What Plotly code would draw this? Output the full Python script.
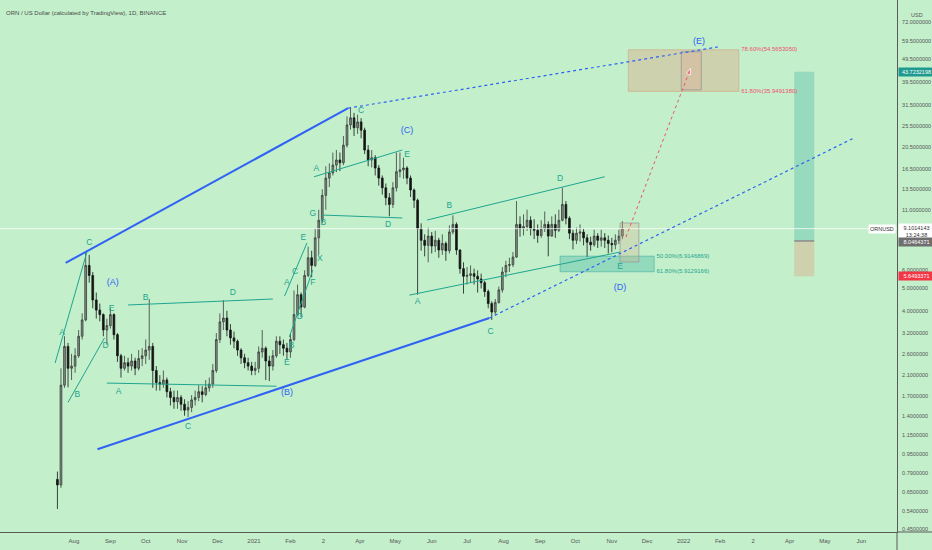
import numpy as np
import pandas as pd
import plotly.graph_objects as go

BG = "#c3efcb"
TEAL = "#1fa58f"
BLUE = "#2f62f5"
PINK = "#f0506e"
AXIS = "#5a5a5a"
FONT = "Liberation Sans"

# ORN/USD, 3-day candles
candle_start = "2020-07-18"
open_px = [0.74, 0.70, 1.90, 2.80, 2.25, 2.30, 2.55, 3.10, 3.65, 6.30,
           5.70, 4.46, 4.03, 3.85, 3.30, 3.45, 3.85, 3.15, 2.55, 2.25,
           2.38, 2.30, 2.42, 2.25, 2.48, 2.55, 2.70, 2.80, 2.20, 1.95,
           1.92, 2.00, 1.78, 1.68, 1.61, 1.68, 1.57, 1.48, 1.52, 1.64,
           1.68, 1.78, 1.73, 1.85, 1.92, 2.20, 3.00, 3.58, 3.72, 3.30,
           3.05, 2.95, 2.70, 2.50, 2.38, 2.30, 2.20, 2.25, 2.65, 2.75,
           2.42, 2.30, 2.55, 2.95, 2.85, 2.75, 2.65, 3.00, 3.85, 4.70,
           4.15, 5.70, 6.80, 6.30, 8.30, 9.90, 12.7, 15.1, 15.9, 17.2,
           18.1, 17.6, 21.0, 25.7, 27.6, 25.0, 26.5, 24.4, 20.0, 18.1,
           18.5, 16.7, 15.1, 13.7, 12.4, 11.6, 13.7, 16.1, 16.4, 16.7,
           15.1, 13.4, 12.1, 9.10, 8.10, 7.70, 8.45, 7.65, 8.10, 7.35,
           7.85, 7.30, 8.80, 9.50, 7.35, 6.10, 5.65, 5.70, 5.80, 5.65,
           5.50, 5.30, 4.85, 4.30, 3.95, 4.35, 4.93, 5.90, 6.30, 6.35,
           6.85, 9.50, 9.10, 9.30, 9.90, 9.10, 8.95, 8.50, 9.10, 9.50,
           8.45, 9.50, 8.95, 9.90, 11.6, 10.1, 8.70, 8.10, 8.70, 8.80,
           8.30, 7.95, 7.75, 8.45, 8.10, 8.30, 8.10, 7.85, 7.75, 8.10,
           8.45]
high_px = [0.80, 2.25, 3.10, 2.90, 2.60, 2.75, 3.30, 3.90, 7.20, 7.00,
           5.90, 4.80, 4.30, 3.90, 3.70, 4.10, 3.90, 3.20, 2.60, 2.55,
           2.50, 2.60, 2.50, 2.70, 2.75, 3.00, 4.50, 2.90, 2.30, 2.10,
           2.20, 2.05, 1.85, 1.80, 1.80, 1.72, 1.65, 1.62, 1.72, 1.80,
           1.90, 1.88, 2.00, 2.05, 2.35, 3.20, 3.90, 4.45, 4.00, 3.50,
           3.25, 3.00, 2.75, 2.60, 2.50, 2.40, 2.40, 2.80, 3.30, 2.80,
           2.55, 2.70, 3.10, 3.10, 3.00, 2.90, 3.20, 4.90, 5.20, 4.80,
           6.00, 7.60, 7.30, 9.10, 11.0, 13.5, 17.0, 17.5, 19.5, 20.0,
           19.5, 23.0, 28.0, 30.5, 29.0, 28.5, 27.5, 25.0, 21.0, 20.0,
           19.0, 17.2, 15.5, 14.3, 13.0, 14.5, 19.5, 19.5, 18.5, 17.0,
           15.5, 13.6, 12.3, 9.60, 8.60, 9.20, 8.80, 8.90, 8.30, 8.60,
           8.00, 9.40, 10.4, 9.70, 7.40, 6.50, 6.20, 6.30, 6.10, 6.00,
           5.80, 5.40, 4.95, 4.40, 4.50, 5.10, 6.20, 6.60, 6.80, 7.20,
           12.0, 10.3, 10.5, 11.0, 10.3, 10.0, 9.50, 9.90, 10.8, 9.80,
           10.3, 10.5, 11.0, 13.7, 12.0, 10.3, 9.00, 9.20, 9.50, 9.10,
           8.60, 8.40, 9.00, 8.70, 9.00, 8.70, 8.50, 8.30, 8.60, 9.00,
           9.80]
low_px = [0.55, 0.68, 1.85, 1.86, 2.00, 2.15, 2.50, 3.00, 3.60, 5.30,
          4.10, 3.70, 3.60, 3.10, 2.85, 3.35, 3.00, 2.40, 2.05, 2.20,
          2.15, 2.20, 2.10, 2.20, 2.30, 2.35, 2.45, 1.85, 1.80, 1.80,
          1.85, 1.68, 1.55, 1.50, 1.50, 1.47, 1.40, 1.38, 1.45, 1.55,
          1.62, 1.60, 1.70, 1.78, 1.85, 2.15, 2.90, 3.30, 3.10, 2.85,
          2.75, 2.55, 2.35, 2.25, 2.20, 2.10, 2.10, 2.15, 2.50, 2.00,
          1.98, 2.20, 2.50, 2.60, 2.55, 2.45, 2.50, 2.95, 3.80, 3.75,
          4.10, 5.60, 5.60, 6.20, 7.00, 9.60, 11.0, 13.8, 15.5, 16.0,
          16.2, 17.2, 20.5, 24.5, 23.0, 23.5, 22.5, 19.2, 17.0, 16.8,
          15.5, 14.0, 12.8, 11.5, 10.3, 11.2, 13.2, 15.2, 15.0, 14.2,
          12.5, 11.2, 4.70, 7.30, 6.90, 6.50, 7.10, 7.20, 6.80, 7.00,
          6.60, 7.10, 8.60, 7.00, 5.80, 4.75, 5.20, 5.30, 5.20, 4.80,
          5.00, 4.60, 4.10, 3.65, 3.85, 4.30, 4.80, 5.60, 5.90, 6.20,
          6.80, 8.40, 8.50, 8.90, 8.50, 8.20, 7.90, 8.30, 8.80, 6.90,
          8.40, 8.30, 8.80, 9.80, 9.50, 8.20, 7.40, 7.80, 8.00, 7.70,
          6.85, 7.30, 7.60, 7.50, 7.60, 7.50, 7.10, 7.20, 7.40, 7.80,
          8.20]
close_px = [0.70, 1.90, 2.80, 2.25, 2.30, 2.55, 3.10, 3.65, 6.30, 5.70,
            4.46, 4.03, 3.85, 3.30, 3.45, 3.85, 3.15, 2.55, 2.25, 2.38,
            2.30, 2.42, 2.25, 2.48, 2.55, 2.70, 2.80, 2.20, 1.95, 1.92,
            2.00, 1.78, 1.68, 1.61, 1.68, 1.57, 1.48, 1.52, 1.64, 1.68,
            1.78, 1.73, 1.85, 1.92, 2.20, 3.00, 3.58, 3.72, 3.30, 3.05,
            2.95, 2.70, 2.50, 2.38, 2.30, 2.20, 2.25, 2.65, 2.75, 2.42,
            2.30, 2.55, 2.95, 2.85, 2.75, 2.65, 3.00, 3.85, 4.70, 4.15,
            5.70, 6.80, 6.30, 8.30, 9.90, 12.7, 15.1, 15.9, 17.2, 18.1,
            17.6, 21.0, 25.7, 27.6, 25.0, 26.5, 24.4, 20.0, 18.1, 18.5,
            16.7, 15.1, 13.7, 12.4, 11.6, 13.7, 16.1, 16.4, 16.7, 15.1,
            13.4, 12.1, 9.10, 8.10, 7.70, 8.45, 7.65, 8.10, 7.35, 7.85,
            7.30, 8.80, 9.50, 7.35, 6.10, 5.65, 5.70, 5.80, 5.65, 5.50,
            5.30, 4.85, 4.30, 3.95, 4.35, 4.93, 5.90, 6.30, 6.35, 6.85,
            9.50, 9.10, 9.30, 9.90, 9.10, 8.95, 8.50, 9.10, 9.50, 8.45,
            9.50, 8.95, 9.90, 11.6, 10.1, 8.70, 8.10, 8.70, 8.80, 8.30,
            7.95, 7.75, 8.45, 8.10, 8.30, 8.10, 7.85, 7.75, 8.10, 8.45,
            9.1014]

last_price = 9.1014143
x_range = ["2020-05-30 05:00", "2022-07-01 07:00"]
y_range = [0.437, 89.76]

# channel (thick blue) and its dotted extensions
channel_lines = [("2020-07-25", 6.46, "2021-03-22", 30.4),
                 ("2020-08-21", 1.00, "2021-07-20", 3.72)]
channel_ext = [("2021-03-22", 30.4, "2022-01-30", 56.1),
               ("2021-07-20", 3.72, "2022-05-26", 22.6)]

# thin teal wave lines
wave_lines = [("2020-07-16", 2.37, "2020-08-12", 7.20),
              ("2020-07-27", 1.60, "2020-08-27", 3.05),
              ("2020-09-16", 4.24, "2021-01-17", 4.50),
              ("2020-08-29", 1.94, "2021-01-20", 1.88),
              ("2021-01-27", 4.64, "2021-02-15", 7.89),
              ("2021-01-31", 3.08, "2021-02-20", 6.02),
              ("2021-02-28", 10.43, "2021-05-07", 10.13),
              ("2021-02-21", 15.3, "2021-05-07", 20.0),
              ("2021-05-13", 4.68, "2021-11-08", 7.20),
              ("2021-05-28", 9.92, "2021-10-26", 15.3)]

# wave letters
wave_text = ["A", "B", "C", "D", "E", "A", "B", "C", "D",
             "E", "B", "D", "A", "C", "E", "F", "X", "G", "A", "B",
             "C", "D", "E", "A", "B", "C", "D", "E"]
wave_date = ["2020-07-22", "2020-08-04", "2020-08-14", "2020-08-28", "2020-09-02",
             "2020-09-08", "2020-10-01", "2020-11-06", "2020-12-14",
             "2021-01-29", "2021-02-02", "2021-02-09", "2021-01-29", "2021-02-05",
             "2021-02-12", "2021-02-20", "2021-02-26", "2021-02-20", "2021-02-23",
             "2021-03-01", "2021-04-02", "2021-04-25", "2021-05-11",
             "2021-05-20", "2021-06-16", "2021-07-21", "2021-09-18", "2021-11-08"]
wave_price = [3.20, 1.72, 7.89, 2.81, 4.07, 1.77, 4.55, 1.25, 4.78,
              2.37, 2.81, 3.76, 5.28, 5.90, 8.29, 5.28, 6.72, 10.6, 16.5,
              9.63, 29.5, 9.44, 19.0, 4.37, 11.4, 3.23, 14.96, 6.20]

degree_text = ["(A)", "(B)", "(C)", "(D)", "(E)"]
degree_date = ["2020-09-03", "2021-01-29", "2021-05-11", "2021-11-08", "2022-01-14"]
degree_price = [5.28, 1.76, 24.2, 5.02, 59.0]

# fib zones
fib_low_zone = ("2021-09-18", "2021-12-07", 5.9129166, 6.9146869)
fib_high_zone = ("2021-11-15", "2022-02-17", 35.9491380, 54.5653050)
target_box = ("2021-12-30", "2022-01-16", 36.5, 53.5)
now_box = ("2021-11-08", "2021-11-24", 6.52, 9.63)
arrow_path = ("2021-11-13", 8.37, "2022-01-07", 45.4)
long_box = ("2022-04-05", "2022-04-22", 43.7232198, 8.0464371, 5.6493371)

y_ticks = [0.45, 0.54, 0.65, 0.79, 0.95, 1.15, 1.4, 1.7, 2.1, 2.6, 3.2, 4.0, 5.0, 6.0,
           11.0, 13.5, 16.5, 20.5, 25.5, 31.5, 39.5, 49.5, 59.5, 72.0, 88.0]
x_ticks = pd.date_range("2020-08-01", "2022-06-01", freq="MS")
x_tick_text = ["Aug", "Sep", "Oct", "Nov", "Dec", "2021", "Feb", "2", "Apr", "May", "Jun",
               "Jul", "Aug", "Sep", "Oct", "Nov", "Dec", "2022", "Feb", "2", "Apr", "May", "Jun"]


def rect(d0, d1, p0, p1, fill, line="rgba(0,0,0,0)", width=1):
    return go.Scatter(x=[d0, d1, d1, d0, d0], y=[p0, p0, p1, p1, p0], mode="lines",
                      fill="toself", fillcolor=fill, line=dict(color=line, width=width),
                      hoverinfo="skip")


def seg(line, color, width, dash="solid"):
    d0, p0, d1, p1 = line
    return go.Scatter(x=[d0, d1], y=[p0, p1], mode="lines",
                      line=dict(color=color, width=width, dash=dash), hoverinfo="skip")


fig = go.Figure()

# zones behind the candles
fig.add_trace(rect(fib_low_zone[0], fib_low_zone[1], fib_low_zone[2], fib_low_zone[3],
                   "rgba(38,166,154,0.30)", "rgba(38,166,154,0.45)"))
fig.add_trace(rect(fib_high_zone[0], fib_high_zone[1], fib_high_zone[2], fib_high_zone[3],
                   "rgba(226,150,115,0.33)", "rgba(210,160,120,0.5)"))
fig.add_trace(rect(*target_box, "rgba(230,140,130,0.22)", "rgba(150,150,150,0.8)"))
fig.add_trace(rect(*now_box, "rgba(215,175,140,0.30)", "rgba(150,150,150,0.7)"))
fig.add_trace(rect(long_box[0], long_box[1], long_box[2], long_box[3], "rgba(38,166,154,0.28)"))
fig.add_trace(rect(long_box[0], long_box[1], long_box[3], long_box[4], "rgba(226,150,115,0.33)"))
fig.add_trace(go.Scatter(x=[long_box[0], long_box[1]], y=[long_box[3], long_box[3]], mode="lines",
                         line=dict(color="#8a8a8a", width=1.5), hoverinfo="skip"))

# last price line
fig.add_trace(go.Scatter(x=x_range, y=[last_price, last_price], mode="lines",
                         line=dict(color="rgba(255,255,255,0.75)", width=1), hoverinfo="skip"))

fig.add_trace(go.Candlestick(
    x=pd.date_range(candle_start, periods=len(close_px), freq="3D"),
    open=open_px, high=high_px, low=low_px, close=close_px,
    increasing=dict(line=dict(color="#3c3c3c", width=0.8), fillcolor="rgba(70,70,70,0.55)"),
    decreasing=dict(line=dict(color="#151515", width=0.8), fillcolor="#151515"),
    whiskerwidth=0, hoverinfo="skip",
))

for ln in channel_lines:
    fig.add_trace(seg(ln, BLUE, 2))
for ln in channel_ext:
    fig.add_trace(seg(ln, BLUE, 1.2, "dot"))
for ln in wave_lines:
    fig.add_trace(seg(ln, TEAL, 1))

d0, p0, d1, p1 = arrow_path
fig.add_trace(go.Scatter(x=[d0, d1], y=[p0, p1], mode="lines+markers",
                         line=dict(color=PINK, width=1, dash="dot"),
                         marker=dict(symbol=["circle", "arrow"], size=[0, 7], color=PINK,
                                     angleref="previous"),
                         hoverinfo="skip"))

fig.add_trace(go.Scatter(x=wave_date, y=wave_price, mode="text", text=wave_text,
                         textfont=dict(family=FONT, size=8.5, color=TEAL), hoverinfo="skip"))
fig.add_trace(go.Scatter(x=degree_date, y=degree_price, mode="text", text=degree_text,
                         textfont=dict(family=FONT, size=9, color=BLUE), hoverinfo="skip"))

fig.add_trace(go.Scatter(x=["2021-12-09", "2021-12-09"], y=[6.9146869, 5.9129166], mode="text",
                         text=["50.00%(6.9146869)", "61.80%(5.9129166)"], textposition="middle right",
                         textfont=dict(family=FONT, size=6, color=TEAL), hoverinfo="skip"))
fig.add_trace(go.Scatter(x=["2022-02-19", "2022-02-19"], y=[54.5653050, 35.9491380], mode="text",
                         text=["78.60%(54.5653050)", "61.80%(35.9491380)"], textposition="middle right",
                         textfont=dict(family=FONT, size=6, color=PINK), hoverinfo="skip"))

# right-hand price tags
tags = [(43.7232198, "43.7232198", "#1f9a8f", "white", 0),
        (last_price, "9.1014143<br>13:24:38", "white", "#333333", -3),
        (8.0464371, "8.0464371", "#6e6e6e", "white", -1),
        (5.6493371, "5.6493371", "#f23645", "white", 0)]
for price, txt, bg, fg, shift in tags:
    fig.add_annotation(x=1, xref="paper", xanchor="left", xshift=1, y=np.log10(price), yref="y",
                       yshift=shift, text=txt, showarrow=False, bgcolor=bg, width=33, borderpad=1,
                       font=dict(family=FONT, size=5.5, color=fg))
fig.add_annotation(x=1, xref="paper", xanchor="right", xshift=-1, y=np.log10(last_price), yref="y",
                   text="ORNUSD", showarrow=False, bgcolor="white", borderpad=1,
                   font=dict(family=FONT, size=5.5, color="#333333"))
fig.add_annotation(x=1, xref="paper", xanchor="left", xshift=12, y=1 - 10 / 532, yref="paper",
                   text="USD", showarrow=False, font=dict(family=FONT, size=5.5, color="#555555"))
fig.add_annotation(x=0.004, xref="paper", xanchor="left", y=1 - 8 / 532, yref="paper",
                   text="ORN / US Dollar (calculated by TradingView), 1D, BINANCE", showarrow=False,
                   font=dict(family=FONT, size=6, color="#4a4a4a"))

# axis lines running into the corner
fig.add_shape(type="line", xref="paper", yref="paper", x0=1, x1=1.04, y0=0, y1=0,
              line=dict(color=AXIS, width=1))
fig.add_shape(type="line", xref="paper", yref="paper", x0=1, x1=1, y0=0, y1=-0.04,
              line=dict(color=AXIS, width=1))

fig.update_layout(
    width=932, height=550,
    margin=dict(l=0, r=35, t=0, b=18, autoexpand=False),
    paper_bgcolor=BG, plot_bgcolor=BG,
    showlegend=False,
    xaxis=dict(type="date", range=x_range, rangeslider=dict(visible=False),
               showgrid=False, zeroline=False, ticks="",
               tickvals=x_ticks, ticktext=x_tick_text, ticklabelstandoff=3,
               tickfont=dict(family=FONT, size=6, color="#555555"),
               showline=True, linecolor=AXIS, linewidth=1),
    yaxis=dict(type="log", side="right", range=[np.log10(y_range[0]), np.log10(y_range[1])],
               showgrid=False, zeroline=False, ticks="",
               tickvals=y_ticks, ticktext=[f"{v:.7f}" for v in y_ticks], ticklabelstandoff=3,
               tickfont=dict(family=FONT, size=5.5, color="#555555"),
               showline=True, linecolor=AXIS, linewidth=1),
)

fig.write_html("out.html", config={"displayModeBar": False},
               post_script="document.body.style.margin='0';")
